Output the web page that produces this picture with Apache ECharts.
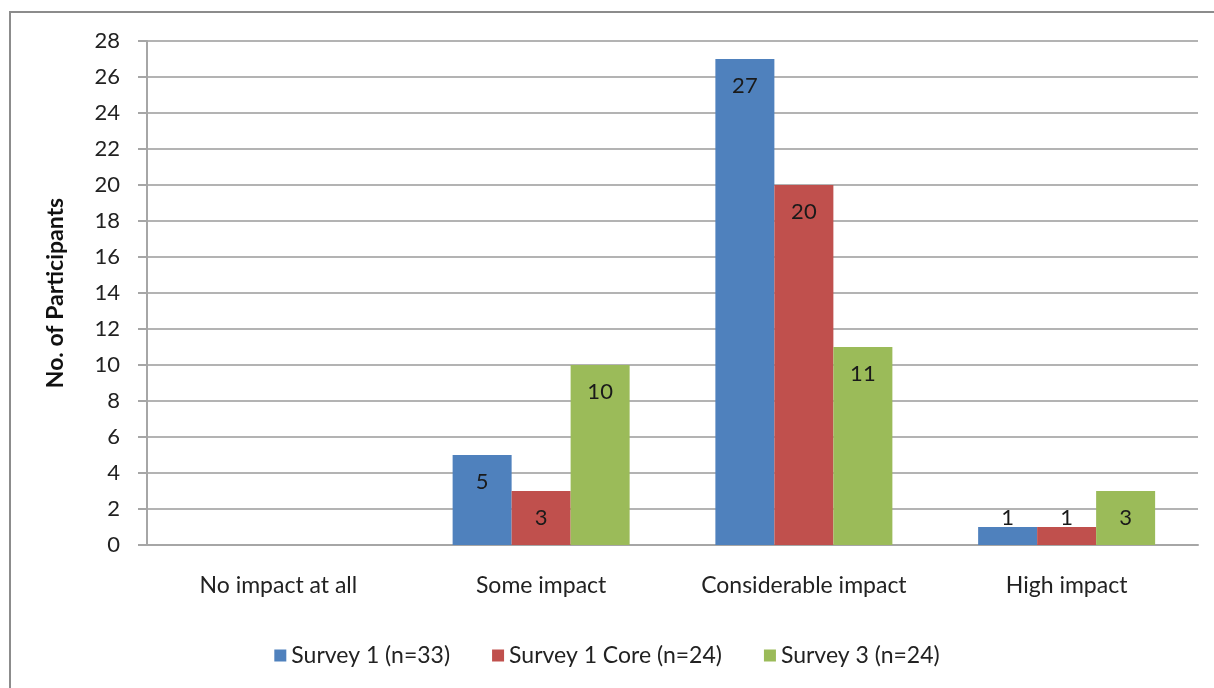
<!DOCTYPE html>
<html>
<head>
<meta charset="utf-8">
<script src="https://cdn.jsdelivr.net/npm/echarts@6/dist/echarts.min.js"></script>
<style>
  html, body { margin: 0; padding: 0; background: #fff; }
  #chart { width: 1214px; height: 688px; }
</style>
</head>
<body>
<div id="chart"></div>
<script>
const categories = ['No impact at all', 'Some impact', 'Considerable impact', 'High impact']
const seriesNames = ['Survey 1 (n=33)', 'Survey 1 Core (n=24)', 'Survey 3 (n=24)']
const survey1 = [null, 5, 27, 1]
const survey1Core = [null, 3, 20, 1]
const survey3 = [null, 10, 11, 3]
const colors = ['#4F81BD', '#C0504D', '#9BBB59']

const font = 'Lato, "Open Sans", sans-serif'

// short bars get the label above the bar, like Excel does
const toData = (arr) => arr.map(v => {
  if (v === 1) {
    return { value: v, label: { position: 'top', distance: -2 } }
  }
  return v
})

const makeSeries = (name, arr, i) => ({
  name,
  type: 'bar',
  data: toData(arr),
  barWidth: 59,
  barGap: '0%',
  itemStyle: { color: colors[i] },
  label: {
    show: true,
    position: 'insideTop',
    distance: 16,
    color: '#1a1a1a',
    fontSize: 22,
    fontFamily: font
  }
})

const chart = echarts.init(document.getElementById('chart'))

chart.setOption({
  animation: false,
  graphic: [
    {
      type: 'rect',
      shape: { x: 10, y: 12, width: 1300, height: 800 },
      style: { fill: 'none', stroke: '#8c8c8c', lineWidth: 2 },
      silent: true
    }
  ],
  grid: {
    left: 147,
    right: 16,
    top: 41,
    bottom: 143
  },
  legend: {
    data: seriesNames,
    bottom: 16,
    left: 'center',
    itemWidth: 12,
    itemHeight: 12,
    itemGap: 42,
    icon: 'rect',
    textStyle: { fontSize: 23, fontFamily: font, color: '#222' }
  },
  xAxis: {
    type: 'category',
    data: categories,
    axisLine: { lineStyle: { color: '#a6a6a6', width: 2 } },
    axisTick: { show: false },
    axisLabel: {
      interval: 0,
      margin: 29,
      fontSize: 23,
      fontFamily: font,
      color: '#222'
    }
  },
  yAxis: {
    type: 'value',
    min: 0,
    max: 28,
    interval: 2,
    name: 'No. of Participants',
    nameLocation: 'middle',
    nameGap: 80,
    nameTextStyle: {
      fontSize: 23,
      fontWeight: 'bold',
      fontFamily: font,
      color: '#111'
    },
    axisLine: { show: true, lineStyle: { color: '#a6a6a6', width: 2 } },
    axisTick: { show: true, length: 9, lineStyle: { color: '#a6a6a6', width: 2 } },
    axisLabel: {
      margin: 27,
      fontSize: 22,
      fontFamily: font,
      color: '#222'
    },
    splitLine: { lineStyle: { color: '#b3b3b3', width: 2 } }
  },
  series: [
    makeSeries(seriesNames[0], survey1, 0),
    makeSeries(seriesNames[1], survey1Core, 1),
    makeSeries(seriesNames[2], survey3, 2)
  ]
})

window.addEventListener('resize', () => chart.resize())
</script>
</body>
</html>
